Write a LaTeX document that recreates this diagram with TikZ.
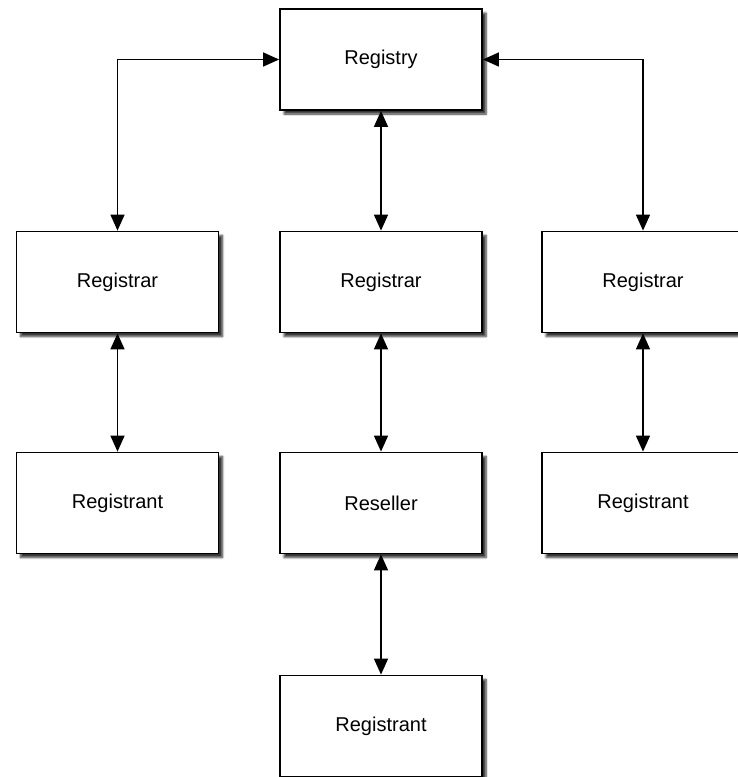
\documentclass[tikz,border=0pt]{standalone}
\usepackage{fontspec}
\setmainfont{Liberation Sans}
\usetikzlibrary{arrows.meta,shadows.blur}
\begin{document}
\begin{tikzpicture}[x=1pt,y=-1pt,
  box/.style={draw=black,line width=1.8pt,fill=white,minimum width=202pt,minimum height=101pt,inner sep=0pt,
    font=\fontsize{20}{24}\selectfont,
    blur shadow={shadow xshift=4pt,shadow yshift=-4pt,shadow blur steps=6,shadow blur extra rounding=0pt,shadow opacity=80}},
  link/.style={line width=1.5pt,{Triangle[length=16pt,width=14pt]}-{Triangle[length=16pt,width=14pt]}}]
\useasboundingbox (0,0) rectangle (738,777);
\node[box] (reg) at (381,59.5) {Registry};
\node[box] (rarL) at (117.5,282) {Registrar};
\node[box] (rarM) at (381,282) {Registrar};
\node[box] (rarR) at (643,282) {Registrar};
\node[box] (rntL) at (117.5,503) {Registrant};
\node[box] (res) at (381,503) {Reseller};
\node[box] (rntR) at (643,503) {Registrant};
\node[box] (rntB) at (381,726) {Registrant};
\draw[link] (reg.west) -| (rarL.north);
\draw[link] (reg.east) -| (rarR.north);
\draw[link] (reg.south) -- (rarM.north);
\draw[link] (rarL.south) -- (rntL.north);
\draw[link] (rarM.south) -- (res.north);
\draw[link] (rarR.south) -- (rntR.north);
\draw[link] (res.south) -- (rntB.north);
\end{tikzpicture}
\end{document}
